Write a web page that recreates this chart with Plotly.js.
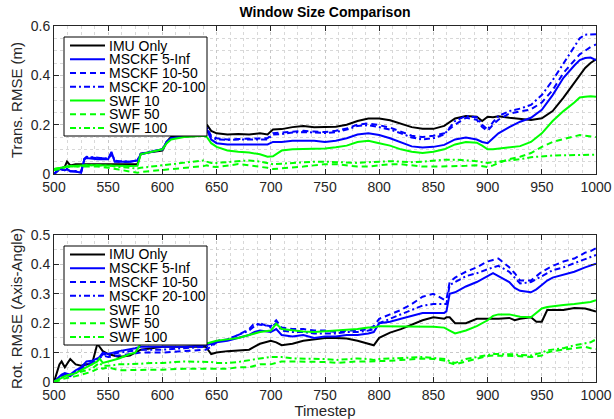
<!DOCTYPE html>
<html>
<head>
<meta charset="utf-8">
<script src="https://cdn.plot.ly/plotly-3.0.1.min.js"></script>
<style>html,body{margin:0;padding:0;background:#fff;}#chart{width:614px;height:419px;}</style>
</head>
<body>
<div id="chart"></div>
<script>
// ---------- Data ----------
var seriesNames = ["IMU Only", "MSCKF 5-Inf", "MSCKF 10-50", "MSCKF 20-100", "SWF 10", "SWF 50", "SWF 100"];

// Top panel: translation RMSE (m)
var tTop = [500,505,510,512,515,520,525,528,530,540,
            550,553,556,560,570,577,580,590,600,604,
            608,620,630,638,641,645,650,660,670,680,
            690,697,702,710,720,730,740,750,760,770,
            780,790,800,810,820,830,840,850,860,870,
            880,890,895,900,905,910,920,930,940,950,
            960,970,980,985,990,995,1000];

var transIMU = [0,0.02,0.03,0.05,0.035,0.04,0.04,0.04,0.04,0.042,
  0.042,0.042,0.04,0.04,0.04,0.04,0.083,0.088,0.095,0.13,
  0.15,0.152,0.153,0.155,0.2,0.175,0.165,0.16,0.162,0.16,
  0.165,0.16,0.18,0.182,0.19,0.195,0.19,0.19,0.192,0.2,
  0.215,0.225,0.225,0.218,0.205,0.19,0.183,0.183,0.195,0.225,
  0.235,0.232,0.215,0.232,0.23,0.234,0.228,0.222,0.219,0.226,
  0.255,0.31,0.37,0.4,0.43,0.45,0.465];

var transMSCKF5 = [0,0.02,0.015,0.02,0.01,0.01,0.005,0.06,0.065,0.06,
  0.06,0.09,0.05,0.05,0.05,0.055,0.08,0.09,0.1,0.13,
  0.145,0.152,0.155,0.16,0.18,0.14,0.125,0.12,0.12,0.12,
  0.12,0.12,0.13,0.13,0.135,0.135,0.135,0.13,0.135,0.145,
  0.16,0.165,0.158,0.145,0.13,0.112,0.107,0.11,0.118,0.14,
  0.148,0.14,0.13,0.125,0.145,0.165,0.19,0.212,0.228,0.26,
  0.32,0.39,0.44,0.462,0.47,0.472,0.462];

var transMSCKF10 = [0,0.02,0.015,0.02,0.012,0.01,0.008,0.06,0.068,0.065,
  0.062,0.08,0.052,0.05,0.05,0.055,0.08,0.09,0.1,0.13,
  0.145,0.152,0.155,0.158,0.185,0.155,0.145,0.14,0.142,0.142,
  0.145,0.145,0.165,0.168,0.172,0.175,0.172,0.17,0.175,0.185,
  0.2,0.205,0.198,0.188,0.172,0.155,0.15,0.155,0.165,0.2,
  0.228,0.22,0.19,0.175,0.2,0.22,0.245,0.255,0.262,0.29,
  0.34,0.41,0.46,0.485,0.5,0.515,0.525];

var transMSCKF20 = [0,0.02,0.018,0.02,0.012,0.012,0.008,0.062,0.07,0.065,
  0.062,0.085,0.055,0.052,0.05,0.055,0.082,0.092,0.1,0.13,
  0.145,0.152,0.155,0.158,0.19,0.15,0.14,0.138,0.14,0.14,
  0.142,0.14,0.16,0.162,0.168,0.17,0.168,0.166,0.17,0.18,
  0.195,0.198,0.19,0.18,0.165,0.148,0.14,0.145,0.16,0.215,
  0.235,0.23,0.2,0.18,0.21,0.235,0.255,0.265,0.28,0.32,
  0.38,0.45,0.52,0.55,0.565,0.567,0.567];

var transSWF10 = [0.02,0.025,0.03,0.03,0.032,0.033,0.035,0.035,0.035,0.035,
  0.035,0.036,0.035,0.033,0.032,0.033,0.08,0.09,0.1,0.125,
  0.14,0.15,0.152,0.155,0.15,0.125,0.11,0.095,0.09,0.087,
  0.08,0.07,0.072,0.095,0.1,0.1,0.102,0.103,0.108,0.115,
  0.13,0.135,0.125,0.115,0.1,0.09,0.085,0.09,0.1,0.12,
  0.13,0.127,0.115,0.1,0.1,0.103,0.107,0.113,0.13,0.165,
  0.215,0.255,0.29,0.31,0.313,0.315,0.313];

var transSWF50 = [0.02,0.025,0.028,0.03,0.03,0.03,0.032,0.032,0.032,0.03,
  0.025,0.022,0.02,0.018,0.01,0.005,0.008,0.012,0.015,0.018,
  0.02,0.025,0.03,0.032,0.035,0.03,0.028,0.035,0.04,0.035,
  0.03,0.025,0.02,0.022,0.025,0.03,0.035,0.04,0.04,0.035,
  0.03,0.03,0.035,0.04,0.04,0.035,0.03,0.03,0.03,0.03,
  0.033,0.035,0.03,0.028,0.035,0.045,0.06,0.07,0.085,0.11,
  0.13,0.14,0.15,0.158,0.155,0.152,0.15];

var transSWF100 = [0.015,0.02,0.025,0.028,0.03,0.03,0.032,0.032,0.035,0.035,
  0.035,0.033,0.03,0.028,0.025,0.022,0.025,0.03,0.035,0.038,
  0.04,0.045,0.05,0.055,0.05,0.045,0.045,0.048,0.052,0.055,
  0.05,0.045,0.04,0.042,0.045,0.048,0.05,0.05,0.048,0.045,
  0.045,0.048,0.05,0.052,0.05,0.048,0.05,0.055,0.058,0.058,
  0.056,0.052,0.048,0.045,0.048,0.05,0.055,0.06,0.068,0.072,
  0.075,0.076,0.077,0.076,0.077,0.078,0.078];

// Bottom panel: rotation RMSE (axis-angle)
var tBot = [500,505,507,510,515,520,525,530,535,540,
            542,545,550,560,570,575,580,590,600,620,
            640,645,650,660,670,680,685,690,700,705,
            710,720,730,740,750,760,770,780,790,795,
            800,810,820,830,840,850,860,862,865,870,
            880,890,900,905,910,920,925,930,940,945,
            950,955,960,970,980,990,995,1000];

var rotIMU = [0,0.06,0.07,0.05,0.078,0.06,0.055,0.06,0.06,0.13,
  0.12,0.105,0.095,0.085,0.09,0.1,0.11,0.115,0.12,0.12,
  0.12,0.095,0.1,0.105,0.108,0.11,0.12,0.13,0.14,0.135,
  0.125,0.13,0.14,0.145,0.15,0.15,0.148,0.14,0.13,0.125,
  0.15,0.168,0.18,0.195,0.21,0.22,0.215,0.22,0.22,0.2,
  0.2,0.215,0.215,0.215,0.215,0.218,0.21,0.215,0.22,0.205,
  0.205,0.245,0.245,0.245,0.252,0.25,0.245,0.24];

var rotMSCKF5 = [0,0.02,0.025,0.03,0.025,0.04,0.05,0.07,0.072,0.08,
  0.085,0.1,0.095,0.105,0.11,0.115,0.12,0.12,0.12,0.12,
  0.125,0.13,0.135,0.14,0.15,0.16,0.17,0.175,0.17,0.18,
  0.16,0.155,0.16,0.15,0.155,0.155,0.16,0.16,0.165,0.17,
  0.2,0.205,0.215,0.225,0.235,0.235,0.235,0.24,0.3,0.305,
  0.325,0.34,0.36,0.37,0.36,0.34,0.32,0.31,0.305,0.315,
  0.33,0.345,0.355,0.365,0.375,0.39,0.395,0.402];

var rotMSCKF10 = [0,0.015,0.02,0.025,0.02,0.035,0.045,0.06,0.065,0.075,
  0.08,0.09,0.085,0.09,0.095,0.1,0.1,0.1,0.1,0.105,
  0.11,0.12,0.135,0.145,0.16,0.18,0.2,0.195,0.19,0.21,
  0.185,0.18,0.18,0.175,0.175,0.17,0.175,0.175,0.18,0.19,
  0.215,0.23,0.245,0.265,0.29,0.3,0.28,0.28,0.34,0.355,
  0.375,0.39,0.41,0.415,0.42,0.39,0.37,0.345,0.345,0.36,
  0.375,0.385,0.395,0.41,0.42,0.44,0.445,0.455];

var rotMSCKF20 = [0,0.015,0.02,0.025,0.02,0.035,0.045,0.06,0.065,0.075,
  0.08,0.095,0.09,0.1,0.105,0.105,0.11,0.11,0.11,0.115,
  0.12,0.125,0.14,0.145,0.16,0.175,0.19,0.2,0.185,0.2,
  0.175,0.17,0.17,0.165,0.165,0.165,0.17,0.17,0.175,0.18,
  0.2,0.215,0.23,0.245,0.26,0.265,0.265,0.265,0.33,0.34,
  0.36,0.37,0.385,0.39,0.395,0.375,0.355,0.335,0.34,0.35,
  0.36,0.37,0.38,0.39,0.405,0.42,0.425,0.432];

var rotSWF10 = [0,0.01,0.015,0.02,0.025,0.03,0.04,0.05,0.06,0.07,
  0.08,0.065,0.07,0.08,0.095,0.1,0.13,0.13,0.13,0.13,
  0.13,0.135,0.14,0.145,0.15,0.16,0.165,0.17,0.175,0.198,
  0.18,0.175,0.172,0.17,0.172,0.175,0.178,0.18,0.185,0.185,
  0.19,0.19,0.19,0.19,0.19,0.188,0.185,0.182,0.175,0.165,
  0.175,0.19,0.21,0.225,0.23,0.23,0.225,0.222,0.22,0.235,
  0.25,0.255,0.258,0.262,0.265,0.268,0.272,0.278];

var rotSWF50 = [0,0.005,0.01,0.012,0.015,0.02,0.025,0.03,0.035,0.045,
  0.05,0.045,0.05,0.04,0.04,0.04,0.04,0.04,0.042,0.045,
  0.045,0.045,0.045,0.045,0.05,0.05,0.055,0.06,0.06,0.065,
  0.07,0.07,0.07,0.07,0.068,0.065,0.068,0.07,0.07,0.07,
  0.07,0.072,0.075,0.078,0.08,0.078,0.075,0.072,0.065,0.06,
  0.07,0.08,0.088,0.09,0.09,0.09,0.088,0.088,0.085,0.088,
  0.09,0.1,0.105,0.11,0.115,0.12,0.115,0.112];

var rotSWF100 = [0,0.01,0.015,0.02,0.025,0.03,0.035,0.04,0.045,0.06,
  0.065,0.055,0.055,0.06,0.06,0.06,0.062,0.065,0.065,0.07,
  0.07,0.068,0.065,0.065,0.068,0.075,0.078,0.08,0.085,0.085,
  0.085,0.08,0.08,0.08,0.078,0.075,0.078,0.08,0.078,0.075,
  0.078,0.08,0.082,0.085,0.085,0.082,0.08,0.078,0.07,0.065,
  0.078,0.085,0.092,0.095,0.095,0.095,0.094,0.092,0.09,0.095,
  0.1,0.108,0.11,0.115,0.125,0.13,0.135,0.145];

var xTickVals = [500,550,600,650,700,750,800,850,900,950,1000];

// ---------- Styles ----------
var colors = ["#000000","#0000ff","#0000ff","#0000ff","#00ff00","#00ff00","#00ff00"];
var dashes = ["solid","solid","6px,4px","6px,3px,2px,3px","solid","6px,4px","6px,3px,2px,3px"];

var topY = [transIMU, transMSCKF5, transMSCKF10, transMSCKF20, transSWF10, transSWF50, transSWF100];
var botY = [rotIMU, rotMSCKF5, rotMSCKF10, rotMSCKF20, rotSWF10, rotSWF50, rotSWF100];

var traces = [];
topY.forEach(function(y, i){
  traces.push({x: tTop, y: y, name: seriesNames[i], type: 'scatter', mode: 'lines',
    xaxis: 'x', yaxis: 'y', showlegend: false,
    line: {color: colors[i], dash: dashes[i], width: 2}});
});
botY.forEach(function(y, i){
  traces.push({x: tBot, y: y, name: seriesNames[i], type: 'scatter', mode: 'lines',
    xaxis: 'x2', yaxis: 'y2', showlegend: false,
    line: {color: colors[i], dash: dashes[i], width: 2}});
});

var FONT = "Liberation Sans, Arial, Helvetica, sans-serif";
var TXT = "#262626";

// page geometry (pixels) used to place the MATLAB-style legends
var M = {l: 54, r: 18, t: 26, b: 37};
var W = 614, H = 419;
var PW = W - M.l - M.r, PH = H - M.t - M.b;
function px(xp){ return (xp - M.l) / PW; }
function py(yp){ return (H - M.b - yp) / PH; }

function xAxis(anchor, title){
  var ax = {
    anchor: anchor, domain: [0,1], range: [500,1000],
    tickvals: xTickVals, ticks: 'inside', ticklen: 5, tickcolor: TXT,
    showline: true, linecolor: TXT, linewidth: 1, mirror: 'ticks',
    showgrid: true, gridcolor: '#c8c8c8', griddash: 'dot', gridwidth: 1,
    minor: {dtick: 12.5, tick0: 500, showgrid: true, gridcolor: '#d8d8d8', griddash: 'dot', ticks: ''},
    zeroline: false, tickfont: {family: FONT, size: 14, color: TXT}
  };
  if (title) ax.title = {text: title, font: {family: FONT, size: 15, color: TXT}, standoff: 2};
  return ax;
}
function yAxis(anchor, domain, range, dtick, title){
  return {
    anchor: anchor, domain: domain, range: range, dtick: dtick, tick0: 0,
    ticks: 'inside', ticklen: 5, tickcolor: TXT,
    showline: true, linecolor: TXT, linewidth: 1, mirror: 'ticks',
    showgrid: true, gridcolor: '#c8c8c8', griddash: 'dot', gridwidth: 1,
    minor: {dtick: 0.05, tick0: 0, showgrid: true, gridcolor: '#d8d8d8', griddash: 'dot', ticks: ''},
    zeroline: false, tickfont: {family: FONT, size: 14, color: TXT},
    title: {text: title, font: {family: FONT, size: 15, color: TXT}, standoff: 4}
  };
}

// MATLAB-style legends built from shapes + annotations
var shapes = [], annotations = [];
function addLegend(box){
  shapes.push({type: 'rect', xref: 'paper', yref: 'paper',
    x0: px(box.left), x1: px(box.right), y0: py(box.bottom), y1: py(box.top),
    fillcolor: '#ffffff', line: {color: '#000000', width: 1}, layer: 'above'});
  seriesNames.forEach(function(n, i){
    var yc = box.top + 8.5 + i * 13.75;
    shapes.push({type: 'line', xref: 'paper', yref: 'paper',
      x0: px(box.left + 6), x1: px(box.left + 41), y0: py(yc), y1: py(yc),
      line: {color: colors[i], width: 2, dash: dashes[i]}, layer: 'above'});
    annotations.push({text: n, xref: 'paper', yref: 'paper', x: px(box.left + 43), y: py(yc),
      xanchor: 'left', yanchor: 'middle', showarrow: false,
      font: {family: FONT, size: 14, color: '#000000'}});
  });
}
addLegend({left: 64, right: 207, top: 37, bottom: 136});
addLegend({left: 64, right: 207, top: 246, bottom: 345});

var layout = {
  width: W, height: H,
  margin: M,
  paper_bgcolor: '#ffffff', plot_bgcolor: '#ffffff',
  showlegend: false,
  title: {text: 'Window Size Comparison', x: 0.5, xref: 'paper', xanchor: 'center',
    y: 0.97, yref: 'container', yanchor: 'middle',
    font: {family: FONT, size: 14, color: '#000000', weight: 'bold'}},
  xaxis: xAxis('y', null),
  yaxis: yAxis('x', [py(174), 1], [0, 0.6], 0.2, 'Trans. RMSE (m)'),
  xaxis2: xAxis('y2', 'Timestep'),
  yaxis2: yAxis('x2', [0, py(235)], [0, 0.5], 0.1, 'Rot. RMSE (Axis-Angle)'),
  shapes: shapes,
  annotations: annotations
};

Plotly.newPlot('chart', traces, layout, {staticPlot: true, displayModeBar: false});
</script>
</body>
</html>
